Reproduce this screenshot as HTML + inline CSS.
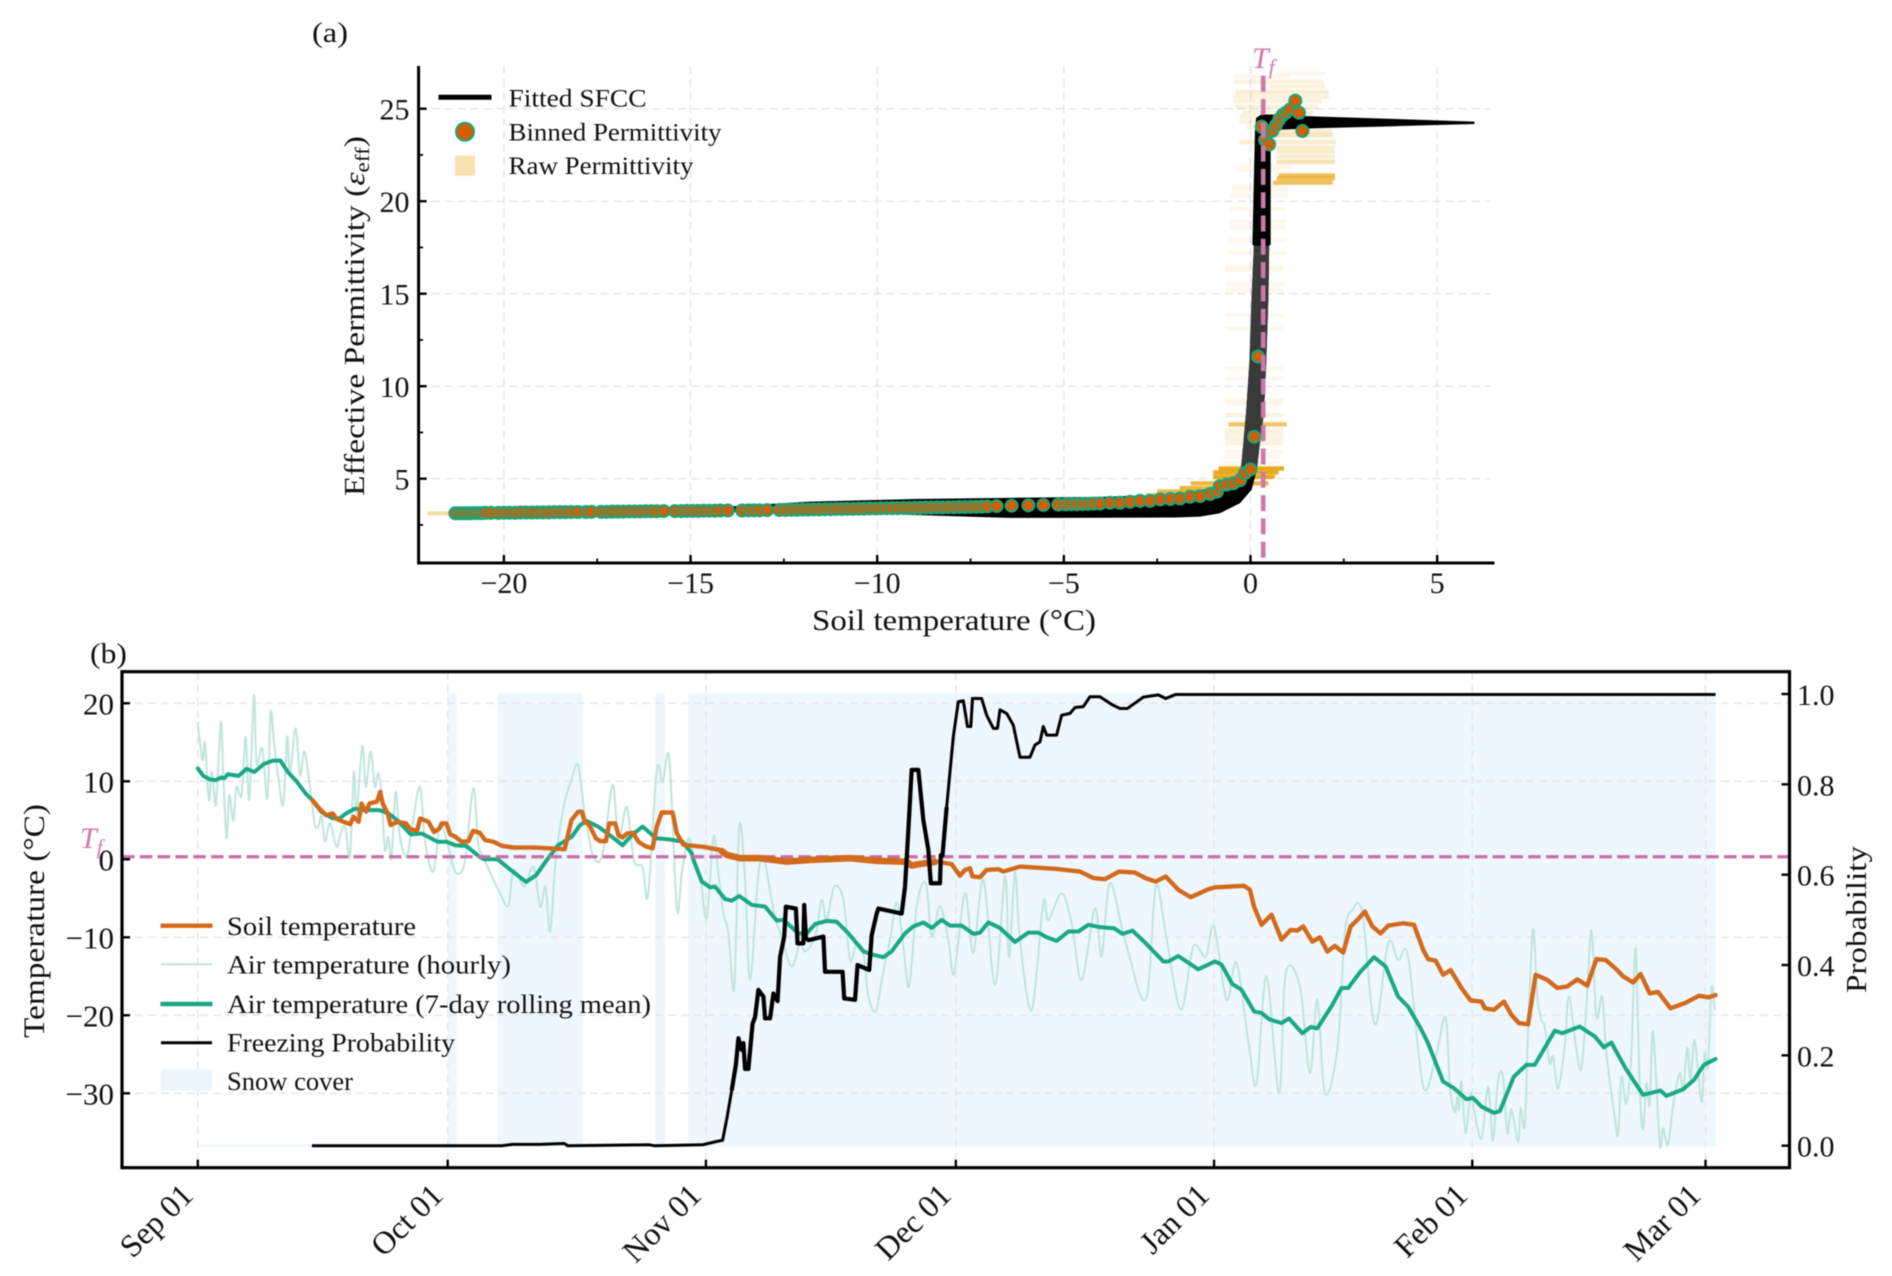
<!DOCTYPE html>
<html lang="en">
<head>
<meta charset="utf-8">
<title>SFCC and freezing probability</title>
<style>
html,body{margin:0;padding:0;background:#fff;width:1892px;height:1276px;overflow:hidden}
svg{display:block;filter:blur(0.45px)}
text{font-family:"Liberation Serif","DejaVu Serif",serif;fill:#111}
</style>
</head>
<body>
<svg id="chart" xmlns="http://www.w3.org/2000/svg" width="1892" height="1276" viewBox="0 0 1892 1276">
<rect x="0" y="0" width="1892" height="1276" fill="#fff"/>
<g id="panelA"></g>
<g id="panelB"></g>

<text x="312" y="42" font-size="29" textLength="36" lengthAdjust="spacingAndGlyphs">(a)</text>
<text x="90" y="663" font-size="29" textLength="37" lengthAdjust="spacingAndGlyphs">(b)</text>

<text transform="translate(364,496) rotate(-90)" font-size="29" textLength="360" lengthAdjust="spacingAndGlyphs">Effective Permittivity (<tspan font-style="italic">ε</tspan><tspan font-size="20" dy="5">eff</tspan><tspan dy="-5">)</tspan></text>
<text x="812" y="630" font-size="29.5" textLength="284" lengthAdjust="spacingAndGlyphs">Soil temperature (°C)</text>
<text transform="translate(44,1038) rotate(-90)" font-size="30" textLength="234" lengthAdjust="spacingAndGlyphs">Temperature (°C)</text>
<text transform="translate(1866,993) rotate(-90)" font-size="29" textLength="147" lengthAdjust="spacingAndGlyphs">Probability</text>

<g>
  <line x1="438.5" y1="97.3" x2="491.5" y2="97.3" stroke="#000" stroke-width="5"/>
  <circle cx="465" cy="131.7" r="9" fill="#d55e00" stroke="#17a67e" stroke-width="2"/>
  <rect x="455" y="155.7" width="20" height="20" fill="#f7e2b2"/>
  <text x="508.5" y="106.5" font-size="25" textLength="138" lengthAdjust="spacingAndGlyphs">Fitted SFCC</text>
  <text x="508.5" y="140.5" font-size="25" textLength="213" lengthAdjust="spacingAndGlyphs">Binned Permittivity</text>
  <text x="508.5" y="174" font-size="25" textLength="185" lengthAdjust="spacingAndGlyphs">Raw Permittivity</text>
</g>

<g>
  <line x1="160.5" y1="925.7" x2="212.5" y2="925.7" stroke="#d96a18" stroke-width="4.5"/>
  <line x1="161" y1="964.3" x2="212" y2="964.3" stroke="#bfe5dc" stroke-width="2"/>
  <line x1="160.5" y1="1004" x2="212.5" y2="1004" stroke="#1aa884" stroke-width="4.5"/>
  <line x1="161" y1="1042.7" x2="212" y2="1042.7" stroke="#000" stroke-width="3"/>
  <rect x="161" y="1069.3" width="51" height="21.4" fill="#eef6fd"/>
  <text x="227" y="935" font-size="26.5" textLength="189" lengthAdjust="spacingAndGlyphs">Soil temperature</text>
  <text x="227" y="973.5" font-size="26.5" textLength="284" lengthAdjust="spacingAndGlyphs">Air temperature (hourly)</text>
  <text x="227" y="1013" font-size="26.5" textLength="424" lengthAdjust="spacingAndGlyphs">Air temperature (7-day rolling mean)</text>
  <text x="227" y="1051.5" font-size="26.5" textLength="228" lengthAdjust="spacingAndGlyphs">Freezing Probability</text>
  <text x="227" y="1090" font-size="26.5" textLength="126" lengthAdjust="spacingAndGlyphs">Snow cover</text>
</g>

<text x="1252" y="68" font-size="30" font-style="italic" style="fill:#cc79a7">T<tspan font-size="21" dy="6">f</tspan></text>
<text x="80" y="848" font-size="30" font-style="italic" style="fill:#cc79a7">T<tspan font-size="21" dy="6">f</tspan></text>
</svg>

<script>
// ---------- Panel (a) data ----------
const aXTicks = [-20, -15, -10, -5, 0, 5];
const aXTickLabels = ['\u221220', '\u221215', '\u221210', '\u22125', '0', '5'];
const aXMinor = [-17.5, -12.5, -7.5, -2.5, 2.5];
const aYTicks = [5, 10, 15, 20, 25];
const aYTickLabels = ['5', '10', '15', '20', '25'];
const aYMinor = [2.5, 7.5, 12.5, 17.5, 22.5];
const tfValue = 0.34;

const rawEps = [
26.9,26.73,26.46,26.2,25.9,25.65,25.4,25.1,24.8,24.56,
24.3,24,23.75,23.55,23.2,22.9,22.67,22.4,22.13,21.9,
21.7,21.4,21.23,21,20.8,20.6,20.33,19.6,18.9,18.6,
17.9,17.2,16.46,16.28,15.5,15.2,13.85,13.1,10.96,10.42,
9.25,9.07,8.44,8.08,7.93,7.63,7.4,7.15,6.9,6.46,
6.2,5.83,5.55,5.34,5.1,4.75,4.5,4.3,4.1,3.13];
const rawLow = [
.7,-.46,-.46,.5,-.4,-.46,-.46,-.4,-.2,-.3,
-.3,-.1,.1,.7,-.3,.7,.7,.7,.7,-.3,
-.4,.75,.7,.6,-.5,-.5,-.55,-.55,-.55,-.55,
-.59,-.59,-.68,-.68,-.68,-.68,-.68,-.68,-.68,-.68,
-.68,-.68,-.68,-.68,-.59,-.68,-.68,-.68,-.68,-.68,
-.72,-.75,-.86,-1,-1,-1.6,-1.9,-2.5,-2.8,-22.05];
const rawHigh = [
2,1.06,1.96,2,2.1,2.1,1.9,1.8,1.7,1.1,
1.1,1.2,2.2,2.2,2.3,2.26,2.26,2.26,2.26,1.1,
1.1,2.26,2.26,2.2,1,1,1,.95,.95,.95,
.97,.97,.88,.88,.88,.88,.88,.88,.88,.88,
.88,.88,.88,.88,.97,.88,.88,.88,.88,.88,
.8,.8,.9,.75,.65,.48,-.2,-.3,-.5,-21];
const rawCount = [
1,1,2,2,3,2,2,2,2,2,
2,2,3,4,3,3,3,3,5,1,
1,14,14,14,1,1,1,1,1,1,
1,1,1,1,1,1,1,1,1,1,
1,1,2,1,12,2,2,2,2,1,
1,1,30,30,30,20,18,18,18,6];

const fitUpperT = [-21.3,-14,-13,-11.8,-9,-5,-4,-2,-1,-0.5,-0.35,-0.26,-0.2,-0.12,-0.03,0.03,0.09,0.05,0.12,0.15,0.3,1.5,6];
const fitUpperEps = [3.2,3.5,3.62,3.76,3.9,4,4.02,4.15,4.5,4.8,5,5.47,6.73,8.55,11.25,14.84,17.6,17.65,23.8,24.5,24.7,24.6,24.3];
const fitLowerT = [6,1.77,0.54,0.54,0.5,0.48,0.42,0.36,0.24,0.17,0.03,-0.28,-0.82,-1.35,-2,-5,-6.5,-9,-10,-14,-21.3];
const fitLowerEps = [24.17,23.94,23.85,17.65,17.6,14.84,11.25,8.55,6.73,5.47,4.4,3.68,3.13,2.95,2.9,2.88,2.88,3.04,3.1,3.2,3.1];
const fitMidLeftT = [0.09,0.03,-0.03,-0.12,-0.2,-0.26];
const fitMidLeftEps = [17.6,14.84,11.25,8.55,6.73,5.47];
const fitMidRightT = [0.17,0.24,0.36,0.42,0.48,0.5];
const fitMidRightEps = [5.47,6.73,8.55,11.25,14.84,17.6];

const binT = [
-21.3,-21.2,-21.1,-21,-20.9,-20.8,-20.7,-20.6,-20.5,-20.35,
-20.15,-20,-19.85,-19.7,-19.55,-19.4,-19.25,-19.1,-18.95,-18.8,
-18.65,-18.5,-18.35,-18.2,-18.02,-17.8,-17.65,-17.4,-17.25,-17.1,
-16.95,-16.8,-16.65,-16.5,-16.35,-16.2,-16.05,-15.9,-15.72,-15.42,
-15.25,-15.1,-14.95,-14.8,-14.65,-14.5,-14.35,-14.2,-14,-13.62,
-13.45,-13.3,-13.15,-12.95,-12.62,-12.45,-12.3,-12.15,-12,-11.85,
-11.7,-11.55,-11.4,-11.25,-11.1,-10.95,-10.8,-10.65,-10.5,-10.35,
-10.2,-10.05,-9.9,-9.75,-9.6,-9.45,-9.3,-9.15,-9,-8.85,
-8.7,-8.55,-8.4,-8.25,-8.1,-7.95,-7.8,-7.65,-7.5,-7.35,
-7.2,-7.05,-6.8,-6.4,-5.95,-5.55,-5.15,-4.95,-4.8,-4.65,
-4.5,-4.35,-4.2,-4.03,-3.76,-3.5,-3.23,-2.96,-2.69,-2.42,
-2.15,-1.89,-1.62,-1.35,-1.08,-0.9,-0.82,-0.64,-0.46,-0.28,
-0.15,0,0.1,0.2,0.3,0.39,0.5,0.585,0.68,0.77,
0.86,0.95,1.06,1.2,1.3,1.39];
const binEps = [
3.13,3.13,3.13,3.13,3.13,3.14,3.14,3.14,3.15,3.15,
3.15,3.16,3.16,3.16,3.17,3.17,3.17,3.18,3.18,3.18,
3.19,3.19,3.19,3.2,3.2,3.2,3.21,3.21,3.21,3.22,
3.22,3.22,3.23,3.23,3.23,3.24,3.24,3.24,3.25,3.25,
3.25,3.26,3.26,3.26,3.27,3.27,3.27,3.28,3.28,3.28,
3.29,3.29,3.29,3.3,3.31,3.31,3.32,3.32,3.33,3.33,
3.34,3.34,3.35,3.35,3.36,3.36,3.37,3.37,3.38,3.38,
3.39,3.39,3.4,3.4,3.41,3.41,3.42,3.42,3.43,3.43,
3.44,3.44,3.45,3.45,3.46,3.46,3.47,3.47,3.48,3.48,
3.49,3.5,3.52,3.54,3.56,3.58,3.6,3.61,3.62,3.62,
3.63,3.64,3.65,3.66,3.7,3.7,3.75,3.8,3.8,3.88,
3.9,3.93,4.02,4.06,4.17,4.3,4.6,4.68,4.75,4.92,
5.3,5.5,7.27,11.6,24.03,23.3,23.07,23.8,24.1,24.42,
24.65,24.78,24.96,25.43,24.78,23.8];

// ---------- Panel (b) data ----------
const monthDays = [0, 30, 61, 91, 122, 153, 181];
const monthLabels = ['Sep 01', 'Oct 01', 'Nov 01', 'Dec 01', 'Jan 01', 'Feb 01', 'Mar 01'];
const tempTicks = [-30, -20, -10, 0, 10, 20];
const tempTickLabels = ['\u221230', '\u221220', '\u221210', '0', '10', '20'];
const probTicks = [0, 0.2, 0.4, 0.6, 0.8, 1];
const probTickLabels = ['0.0', '0.2', '0.4', '0.6', '0.8', '1.0'];
const snowStart = [30, 36, 54.9, 58.9];
const snowEnd = [31.1, 46.2, 56.1, 182.2];
const snowTraceDays = [0, 13.7];
const soilDenseSpan = [62, 90];
const probDenseSpan = [64, 90];

const meanDays = [
0,.65,1.45,2.15,2.8,3.2,3.6,4.9,5.85,6.8,
7.9,8.95,9.9,10.8,11.9,13,13.75,14.8,16.2,17,
17.8,18.85,19.9,21.8,22.9,23.95,25.55,26.9,28.8,29.85,
30.9,32.25,33.85,34.4,36,37.6,39.4,40.6,41.9,43.25,
44.9,45.9,46.7,48.05,49.7,51,52.1,53.4,55,56.6,
58.2,59.3,59.5,60.5,61.5,62.1,63.3,64.1,65,66.5,
68.1,69.5,70.3,72.1,73.1,74.1,75.5,76.7,78.1,79.9,
81.1,82.3,83.3,84.9,85.9,87.1,88.1,89.3,90.3,91.7,
93.1,93.9,94.9,96.3,98.1,99.7,100.9,101.9,103.1,104.5,
105.7,106.9,108.3,110,111,112.2,113.8,115.9,116.5,117.7,
120.1,122.1,122.9,124.2,125.3,126.8,127.7,128.6,130.1,131,
132.6,133.6,134.4,136.2,137.3,138.1,139.5,141.2,142.6,144.1,
145.3,146.8,147.7,149.5,150.8,152.3,153.1,154.1,155.6,156.3,
158,159.5,160.5,162.9,163.8,165.9,167.7,168.8,169.7,171.4,
173.5,175.6,176.3,178.3,179.6,180.8,182.2];
const meanTemp = [
11.65,10.7,10.24,10.15,10.5,10.4,10.9,10.7,11.6,11.2,
12.2,12.63,12.67,11.2,9.94,8.36,7.6,6.1,5.24,5.24,
5.88,6.5,6.3,6.3,5.88,5,3.2,3.3,2.25,2.25,
1.8,1.7,.3,0,0,-1.4,-2.9,-2.05,-.1,1.8,
2.9,4.4,4.9,4.2,2.9,1.8,3.1,4.2,2.7,2.55,
2.25,.75,-.08,-2.85,-3.6,-3.5,-5.1,-5.3,-4.7,-5.85,
-6.06,-7.85,-7.77,-9.5,-9.5,-8.3,-7.9,-8,-9.5,-11.8,
-12.25,-12.55,-11.8,-9.5,-8.6,-8.1,-8.8,-7.77,-8.5,-8.5,
-9.56,-9.4,-8.1,-8.8,-10.6,-9.4,-9.4,-10,-10.46,-9.26,
-9.26,-8.4,-8.7,-8.84,-9.56,-9.14,-10.76,-13.1,-13.1,-12.4,
-14.1,-13.1,-13.5,-16,-16.74,-19.5,-19.7,-20.5,-21,-20.4,
-22.3,-21.5,-21.66,-18.67,-16.5,-16.5,-14.5,-12.55,-13.75,-17.6,
-18.9,-21.66,-23.6,-28.5,-29.35,-30.76,-30.6,-31.7,-32.5,-32.3,
-27.85,-26.35,-26.35,-21.96,-22.3,-21.44,-22.7,-24.1,-23.5,-26.8,
-30.2,-29.65,-30.33,-29.5,-28.3,-26.35,-25.6];

const soilDays = [
13.75,14.6,15.4,16.2,16.7,17.5,18.3,18.7,19.3,19.65,
20.2,20.6,21.5,21.9,22.2,22.8,23.15,24,25,25.55,
26.35,26.7,27.7,28.35,29,29.3,29.85,30.3,30.9,31.7,
32.5,33.05,33.85,34.5,35.5,36.5,37.9,40.55,44.05,44.85,
45.65,46.1,46.45,47,47.8,48.3,49,49.4,50.1,50.5,
51,51.5,52.25,52.9,53.7,54.6,55.1,55.7,57,57.5,
58.3,60.7,62.7,63.5,65.1,67.5,70.7,73.5,78.3,81.5,
85.1,85.7,86.7,88.7,90.5,91.5,92.1,92.7,93,93.9,
94.7,96.1,96.7,98.7,103.1,105.9,107.5,108.9,110.6,112.5,
113.8,115,116.2,117.7,119.2,121.3,122.1,125.6,126.3,126.8,
127.7,128.9,130.1,131.2,132,132.7,133.8,134.7,135.6,136.5,
137.5,138.4,139.2,140.1,141,142,142.9,144.7,146,147.1,
147.7,148.6,149.5,150.4,151.7,152.8,154.1,154.5,155.6,156.8,
157.7,158.6,159.7,160.6,162,163.2,164.4,165.6,166.8,167.9,
169,170.2,171.1,172.3,173.2,174.3,175.3,176.8,178.6,180.2,
181.4,182.2];
const soilTemp = [
7.6,6.5,5.66,5.88,5.15,4.8,4.5,5.45,4.8,7.15,
6.1,7.15,7.4,8.65,7.15,5.88,4.4,4.8,4.6,3.8,
3.75,5.24,4.8,3.5,3.95,4.6,4.6,3.2,2.9,2.25,
2.33,3.65,3.4,2.46,2.25,1.73,1.5,1.5,1.3,5,
6.1,6.1,4.8,4.4,2.67,2.33,2.33,4.6,4.6,3.1,
2.8,3.3,3.4,2.25,1.7,1.4,4.2,6,6,3.35,
1.85,1.6,1.2,.56,.14,.14,-.3,-.08,.14,-.2,
-.3,-.8,-.6,-.3,-.63,-2.1,-1.36,-1.15,-2.2,-2.3,
-1.36,-1.27,-1.57,-.93,-1.23,-1.57,-2.4,-2.55,-1.57,-1.7,
-2.43,-2.85,-2.2,-3.9,-4.86,-3.84,-3.6,-3.4,-3.9,-6.06,
-8.4,-7.1,-10.3,-9.05,-9.14,-8.6,-10.55,-10,-11.83,-11.1,
-11.96,-8.6,-7.77,-6.7,-8.6,-9.5,-8.5,-8.2,-8.4,-11.6,
-12.8,-13,-14.8,-14.2,-16.5,-18.1,-18.24,-19.1,-19.3,-18.24,
-19.95,-21,-21.15,-14.8,-15.46,-16.5,-16.3,-15.4,-16.2,-12.8,
-12.9,-14,-15,-15.8,-14.7,-17.2,-17,-19.1,-18.4,-17.5,
-17.7,-17.4];

const airDays = [
0,.18,.58,.86,1.34,1.66,2.06,2.26,2.78,3.06,
3.46,3.78,4.26,4.66,5.26,5.74,6.18,6.74,7.06,7.74,
8.34,8.74,9.14,9.66,10.26,10.74,11.06,11.74,12.26,12.74,
13.14,13.66,14.06,14.46,14.86,15.26,15.86,16.66,17.26,17.74,
18.26,18.74,19.06,19.74,20.18,20.74,21.26,21.66,22.06,22.46,
22.86,23.26,23.74,24.26,25.06,25.66,26.66,27.26,28.26,29.06,
29.66,30.46,31.06,32.06,33.06,33.66,34.26,36.3,37.3,37.9,
39.2,40.3,41.1,41.75,42.3,43,44,44.85,45.65,46.45,
47.5,48.6,49.8,50.5,51.5,52.35,53.4,54.05,55.1,55.8,
56.6,57.5,58.1,58.9,59.5,60.3,61.1,61.9,62.5,63.1,
63.7,64.4,65,65.7,66.3,67.3,68,69.1,70.1,71.3,
72.3,72.9,74.1,74.9,75.5,76.4,77.5,78.3,79.1,79.9,
80.5,81.4,82.1,83.1,83.9,84.7,85.4,86.3,87.4,88.1,
89.1,90.1,90.8,92.1,93.1,94.3,95.7,96.9,97.4,98.1,
98.7,100.1,101.5,102.1,103.7,104.9,106.1,107.7,108.5,109.5,
111.3,113.8,115,116.2,118,119.5,121,122,123.5,124.7,
126.2,127.1,128.3,129.8,130.6,132.3,133.5,134.4,135.3,136.8,
137.7,138.6,139.8,141.3,142.9,144.1,145.3,147.1,148.6,149.8,
150.3,150.9,151.2,151.4,151.7,152.2,152.8,153.2,154.1,154.8,
155.1,155.5,156.1,156.7,157.2,157.7,158.5,158.8,159.3,159.6,
160.1,160.4,160.8,161.3,161.7,162.3,162.7,163.3,164.1,164.6,
165.5,166.1,166.7,167.3,167.9,168.6,169.1,170.1,170.5,170.9,
171.5,172.1,172.6,173.1,173.5,173.9,174.3,174.7,175.5,175.9,
176.5,177.1,177.9,178.3,178.8,179.2,179.7,180.5,180.9,181.3,
181.7,182.1];
const airTemp = [
17.6,15.7,12.7,14.9,7.6,11.2,7.4,8,17.6,10.6,
2.7,8.2,5,9.3,8.2,15.7,7.6,21,12.3,14.2,
7.8,18.8,15.1,10.6,7,15.7,11,16.8,10.8,13.8,
11.9,7.6,4.4,4.2,5.5,2.25,4.6,1.6,3.75,4,
.33,11.2,5.9,14.5,9.3,13.8,9.3,11,8.45,1.2,
2.9,.1,8.66,2.9,.33,3.75,9.3,2.5,-1.6,4.6,
3.3,-.1,-1.8,-.3,9.1,2,.33,-4.4,-5.9,-1.4,
-3.5,-.95,-6.1,-3.5,-9.3,.3,7.15,10.15,12.1,5.9,
.3,.75,9.5,2.5,6.75,-.1,-1,-4.6,11.4,9.9,
12.9,-6.3,-1.8,2.7,.35,-2.2,-7.5,2.9,-1.8,-6.9,
-9.5,-16.5,4.2,-2.6,-15.5,-1.8,-.08,-6.5,-10.1,-13.75,
-10.76,-11.8,-9.9,-5.2,-7.8,-3.5,-5.2,-12.9,-10.76,-12,
-17.6,-19.5,-15.5,-10.3,-5.6,-11.2,-16.3,-6,-3.07,-9.9,
-6,-10.3,-14.6,-4.35,-12,-2.64,-16.1,-2.2,-12.5,-1.57,
-10.3,-19.3,-5.6,-7.8,-4.35,-8.2,-15.5,-6.3,-12.5,-3.07,
-10.3,-18,-3.5,-9.5,-19.3,-11.2,-12.5,-8.6,-18,-13.3,
-24,-28.7,-15,-30,-14.6,-16.3,-27.4,-18,-30,-24.4,
-9.5,-6.5,-6.9,-21.2,-10.76,-12.9,-12.5,-29.1,-25.3,-20.2,
-29.1,-32.4,-30.4,-32.1,-28.5,-35.1,-30,-32.1,-35.8,-29.4,
-30.9,-36,-28.3,-27.9,-35.1,-32.1,-36.2,-31.9,-34.3,-24.9,
-11.6,-9.4,-17.6,-20.6,-21.5,-26.2,-25.3,-29.4,-24,-17.6,
-24.4,-26.8,-18.9,-9.1,-20.2,-17.6,-24.9,-33,-35.3,-27.9,
-31.3,-24.9,-11.4,-29.1,-34.7,-28.7,-31.5,-22.1,-36.4,-34.5,
-36.6,-31.7,-27.4,-29.6,-24.2,-28.3,-23.2,-31.1,-24.9,-26.6,
-16.5,-19.3];

const probDays = [
13.7,36.5,37.8,41,44,44.4,54.2,54.8,60.6,62.2,
63,63.55,64.1,64.6,64.9,65.3,65.5,65.7,66.1,66.6,
66.9,67.3,67.9,68.1,68.7,69.1,69.6,69.9,70.4,70.6,
71.8,72,72.7,72.8,73,73.3,75.1,75.3,77.4,77.6,
78.9,79.2,80.6,80.9,81.5,81.7,84.5,84.9,85.3,85.7,
86.5,87.1,87.7,88,89.1,89.2,89.4,89.9,90.7,91.3,
91.9,92.4,92.8,93,94.1,94.7,95.5,96,96.3,97.1,
97.9,98.7,99.9,100.5,101.1,101.5,101.9,103.1,103.7,104.7,
105.3,106.3,107.1,108.3,109.8,110.7,111.6,113.5,115.3,116.2,
117.4,126.5,182.2];
const probValue = [
0,0,.003,.003,.005,0,.002,0,.002,.009,
.012,.064,.123,.18,.238,.212,.227,.17,.17,.27,
.285,.345,.33,.282,.282,.337,.32,.418,.463,.529,
.525,.448,.448,.533,.46,.455,.463,.385,.385,.326,
.323,.4,.389,.466,.514,.525,.514,.573,.699,.832,
.832,.721,.655,.581,.581,.643,.643,.75,.906,.983,
.985,.928,.928,.99,.99,.953,.924,.924,.965,.957,
.931,.86,.86,.887,.894,.928,.909,.909,.953,.957,
.97,.972,.994,.994,.976,.968,.968,.993,.998,.99,
.999,.999,.999];

// ---------- Axis functions ----------
const NS = 'http://www.w3.org/2000/svg';
const xA = t => 1250.5 + 37.33 * t;
const yA = e => 108.7 + (25 - e) * 18.5;
const xB = d => 197.8 + 8.33 * d;
const yB = t => 859.3 - 7.8 * t;
const yP = p => 1145.7 - 451.7 * p;

const A_LEFT = 418.6, A_RIGHT = 1494.5, A_TOP = 66, A_BOTTOM = 563;
const B_LEFT = 122, B_RIGHT = 1789.5, B_TOP = 671.7, B_BOTTOM = 1167.7;
const SNOW_TOP = 693.3, SNOW_BOTTOM = 1146.7;
const GRID = '#e6e6e6';

function make(parent, tag, attrs, content) {
  const el = document.createElementNS(NS, tag);
  for (const k in attrs) el.setAttribute(k, attrs[k]);
  if (content !== undefined) el.textContent = content;
  parent.appendChild(el);
  return el;
}
function linePath(xs, ys, fx, fy) {
  let d = '';
  for (let i = 0; i < xs.length; i++) {
    d += (i ? 'L' : 'M') + fx(xs[i]).toFixed(2) + ' ' + fy(ys[i]).toFixed(2);
  }
  return d;
}
function smoothPath(xs, ys, fx, fy) {
  const px = xs.map(fx), py = ys.map(fy);
  let d = 'M' + px[0].toFixed(2) + ' ' + py[0].toFixed(2);
  for (let i = 0; i < px.length - 1; i++) {
    const a = Math.max(i - 1, 0), b = Math.min(i + 2, px.length - 1);
    const c1x = px[i] + (px[i + 1] - px[a]) / 6, c1y = py[i] + (py[i + 1] - py[a]) / 6;
    const c2x = px[i + 1] - (px[b] - px[i]) / 6, c2y = py[i + 1] - (py[b] - py[i]) / 6;
    d += 'C' + c1x.toFixed(2) + ' ' + c1y.toFixed(2) + ' ' + c2x.toFixed(2) + ' ' + c2y.toFixed(2) + ' ' + px[i + 1].toFixed(2) + ' ' + py[i + 1].toFixed(2);
  }
  return d;
}
function bandPath(x1, y1, x2, y2, fx, fy) {
  return linePath(x1, y1, fx, fy) + linePath(x2, y2, fx, fy).replace('M', 'L') + 'Z';
}
function spanIndexes(xs, span) {
  const idx = [];
  xs.forEach(function (v, i) { if (v >= span[0] && v <= span[1]) idx.push(i); });
  return idx;
}

const panelA = document.getElementById('panelA');
const panelB = document.getElementById('panelB');

// ---------- Panel (a) ----------
aXTicks.forEach(function (t) {
  const g = make(panelA, 'line', {x1: xA(t), x2: xA(t), y1: A_TOP, y2: A_BOTTOM, stroke: GRID, 'stroke-width': 1.5, 'stroke-dasharray': '8 5'});
  
  
});
aYTicks.forEach(function (v) {
  const g = make(panelA, 'line', {x1: A_LEFT, x2: 1490, y1: yA(v), y2: yA(v), stroke: GRID, 'stroke-width': 1.5, 'stroke-dasharray': '8 5'});
  
  
});

rawEps.forEach(function (e, i) {
  const bar = make(panelA, 'line', {x1: xA(rawLow[i]), x2: xA(rawHigh[i]), y1: yA(e), y2: yA(e), stroke: '#e69f00', 'stroke-width': 4.2, 'stroke-opacity': (1 - Math.pow(0.93, rawCount[i])).toFixed(3)});
  
  
});

const fitBand = make(panelA, 'path', {d: bandPath(fitUpperT, fitUpperEps, fitLowerT, fitLowerEps, xA, yA), fill: '#000'});


const fitMid = make(panelA, 'path', {d: bandPath(fitMidLeftT, fitMidLeftEps, fitMidRightT, fitMidRightEps, xA, yA), fill: '#3a3a3a'});



binT.forEach(function (t, i) {
  const dot = make(panelA, 'circle', {cx: xA(t), cy: yA(binEps[i]), r: 6, fill: '#d55e00', stroke: '#17a67e', 'stroke-width': 2});
  
  
});

const tfA = make(panelA, 'line', {x1: xA(tfValue), x2: xA(tfValue), y1: 75.7, y2: A_BOTTOM, stroke: '#cc79a7', 'stroke-width': 4.6, 'stroke-dasharray': '16 7.3'});



const aLeftSpine = make(panelA, 'line', {x1: A_LEFT, x2: A_LEFT, y1: A_TOP, y2: A_BOTTOM + 1.5, stroke: '#000', 'stroke-width': 3});


const aBottomSpine = make(panelA, 'line', {x1: A_LEFT, x2: A_RIGHT, y1: A_BOTTOM, y2: A_BOTTOM, stroke: '#000', 'stroke-width': 3});



aXTicks.forEach(function (t, i) {
  const tick = make(panelA, 'line', {x1: xA(t), x2: xA(t), y1: A_BOTTOM, y2: A_BOTTOM - 8, stroke: '#000', 'stroke-width': 2.4});
  
  
  const label = make(panelA, 'text', {x: xA(t), y: 593, 'text-anchor': 'middle', 'font-size': 30}, aXTickLabels[i]);
  
  
});
aXMinor.forEach(function (t) {
  const tick = make(panelA, 'line', {x1: xA(t), x2: xA(t), y1: A_BOTTOM, y2: A_BOTTOM - 4.5, stroke: '#000', 'stroke-width': 1.8});
  
  
});
aYTicks.forEach(function (v, i) {
  const tick = make(panelA, 'line', {x1: A_LEFT, x2: A_LEFT + 8, y1: yA(v), y2: yA(v), stroke: '#000', 'stroke-width': 2.4});
  
  
  const label = make(panelA, 'text', {x: 409.5, y: yA(v) + 10.8, 'text-anchor': 'end', 'font-size': 30}, aYTickLabels[i]);
  
  
});
aYMinor.forEach(function (v) {
  const tick = make(panelA, 'line', {x1: A_LEFT, x2: A_LEFT + 4.5, y1: yA(v), y2: yA(v), stroke: '#000', 'stroke-width': 1.8});
  
  
});

// ---------- Panel (b) ----------
snowStart.forEach(function (s, i) {
  const r = make(panelB, 'rect', {x: xB(s), y: SNOW_TOP, width: xB(snowEnd[i]) - xB(s), height: SNOW_BOTTOM - SNOW_TOP, fill: '#eff7fe'});
  
  
});
const snowTrace = make(panelB, 'rect', {x: xB(snowTraceDays[0]), y: SNOW_BOTTOM - 2.4, width: xB(snowTraceDays[1]) - xB(snowTraceDays[0]), height: 2.4, fill: '#eff7fe'});



monthDays.forEach(function (d) {
  const g = make(panelB, 'line', {x1: xB(d), x2: xB(d), y1: B_TOP, y2: B_BOTTOM, stroke: GRID, 'stroke-width': 1.5, 'stroke-dasharray': '8 5'});
  
  
});
tempTicks.forEach(function (t) {
  if (t === 0) return;
  const g = make(panelB, 'line', {x1: B_LEFT, x2: B_RIGHT, y1: yB(t), y2: yB(t), stroke: GRID, 'stroke-width': 1.5, 'stroke-dasharray': '8 5'});
  
  
});

const airLine = make(panelB, 'path', {d: smoothPath(airDays, airTemp, xB, yB), fill: 'none', stroke: '#bfe5dc', 'stroke-width': 2, 'stroke-linejoin': 'round'});


const meanLine = make(panelB, 'path', {d: linePath(meanDays, meanTemp, xB, yB), fill: 'none', stroke: '#1aa884', 'stroke-width': 4, 'stroke-linejoin': 'round', 'stroke-linecap': 'round'});


const tfB = make(panelB, 'line', {x1: B_LEFT, x2: B_RIGHT, y1: yB(0.33), y2: yB(0.33), stroke: '#c76ea6', 'stroke-width': 3.2, 'stroke-dasharray': '12.5 5.3'});


const soilLine = make(panelB, 'path', {d: linePath(soilDays, soilTemp, xB, yB), fill: 'none', stroke: '#d26a1c', 'stroke-width': 4.4, 'stroke-linejoin': 'round', 'stroke-linecap': 'round'});


const soilDense = spanIndexes(soilDays, soilDenseSpan);
const soilDenseLine = make(panelB, 'path', {d: linePath(soilDense.map(i => soilDays[i]), soilDense.map(i => soilTemp[i]), xB, yB), fill: 'none', stroke: '#d26a1c', 'stroke-width': 6.6, 'stroke-linejoin': 'round'});


const probLine = make(panelB, 'path', {d: linePath(probDays, probValue, xB, yP), fill: 'none', stroke: '#000', 'stroke-width': 3, 'stroke-linejoin': 'round'});


const probDense = spanIndexes(probDays, probDenseSpan);
const probDenseLine = make(panelB, 'path', {d: linePath(probDense.map(i => probDays[i]), probDense.map(i => probValue[i]), xB, yP), fill: 'none', stroke: '#000', 'stroke-width': 4.2, 'stroke-linejoin': 'round'});



const bFrame = make(panelB, 'rect', {x: B_LEFT, y: B_TOP, width: B_RIGHT - B_LEFT, height: B_BOTTOM - B_TOP, fill: 'none', stroke: '#000', 'stroke-width': 3.2});



monthDays.forEach(function (d, i) {
  const tick = make(panelB, 'line', {x1: xB(d), x2: xB(d), y1: B_BOTTOM, y2: B_BOTTOM - 8, stroke: '#000', 'stroke-width': 2.4});
  
  
  const label = make(panelB, 'text', {transform: 'translate(' + (xB(d) - 3) + ',1197) rotate(-45)', 'text-anchor': 'end', 'font-size': 32}, monthLabels[i]);
  
  
});
tempTicks.forEach(function (t, i) {
  const tick = make(panelB, 'line', {x1: B_LEFT, x2: B_LEFT + 8, y1: yB(t), y2: yB(t), stroke: '#000', 'stroke-width': 2.4});
  
  
  const label = make(panelB, 'text', {x: 114, y: yB(t) + 11.2, 'text-anchor': 'end', 'font-size': 31}, tempTickLabels[i]);
  
  
});
probTicks.forEach(function (p, i) {
  const tick = make(panelB, 'line', {x1: B_RIGHT, x2: B_RIGHT - 8, y1: yP(p), y2: yP(p), stroke: '#000', 'stroke-width': 2.4});
  
  
  const label = make(panelB, 'text', {x: 1797, y: yP(p) + 11, 'font-size': 30}, probTickLabels[i]);
  
  
});
</script>
</body>
</html>
